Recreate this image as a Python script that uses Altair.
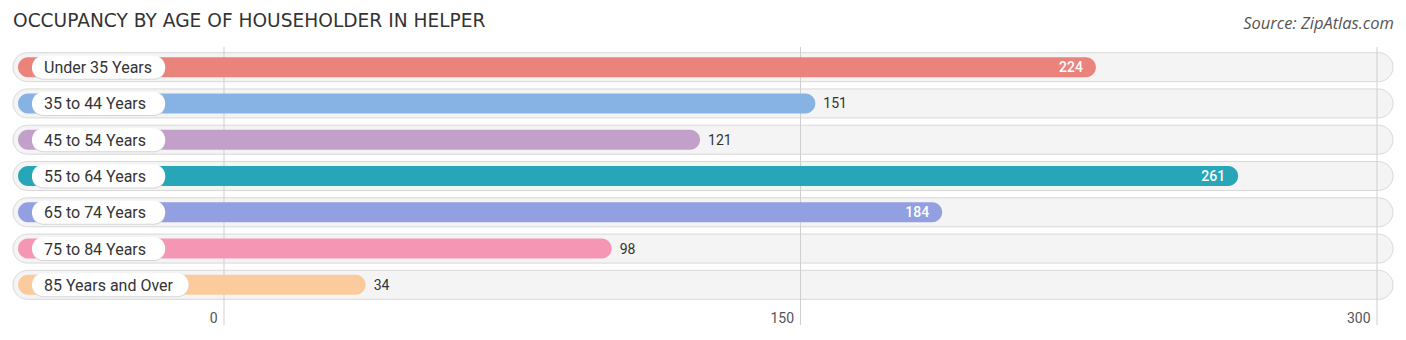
import altair as alt
import pandas as pd

labels = ["Under 35 Years", "35 to 44 Years", "45 to 54 Years", "55 to 64 Years",
          "65 to 74 Years", "75 to 84 Years", "85 Years and Over"]
values = [224, 151, 121, 261, 184, 98, 34]
colors = ["#E9837C", "#86B3E3", "#C3A0CA", "#27A6B8", "#929FE0", "#F596B4", "#FBCB9D"]
tick_values = [0, 150, 300]

df = pd.DataFrame({"label": labels, "value": values, "color": colors})
ticks_df = pd.DataFrame({"tick": tick_values})
txt_df = pd.DataFrame({"t": ["OCCUPANCY BY AGE OF HOUSEHOLDER IN HELPER"],
                       "s": ["Source: ZipAtlas.com"]})

PX = 576.5 / 150.0          # pixels per unit
X0 = 224.0                  # pixel of zero
def d(px):                  # pixel -> data units
    return (px - X0) / PX

xscale = alt.Scale(domain=[d(0), d(1406)], nice=False, zero=False)
xaxis = alt.Axis(values=tick_values, grid=False, domain=False, ticks=False, title=None,
                 labelAlign="right", labelOffset=-7, labelPadding=8,
                 labelFontSize=14, labelColor="#555", labelFont="Roboto")
yenc = alt.Y("label:N", sort=labels, axis=None,
             scale=alt.Scale(paddingInner=0, paddingOuter=0))

base = alt.Chart(df)

bg = base.mark_bar(height=29, cornerRadius=14.5, color="#f4f4f4",
                   stroke="#d9d9d9", strokeWidth=1).encode(
    x=alt.X("bs:Q", scale=xscale, axis=xaxis),
    x2="be:Q",
    y=yenc,
).transform_calculate(bs=str(d(13)), be=str(d(1393)))

grid = alt.Chart(ticks_df).mark_rule(color="#cfcfcf", strokeWidth=1).encode(
    x=alt.X("tick:Q", scale=xscale, axis=xaxis),
    y=alt.value(-2), y2=alt.value(276),
)

bars = base.mark_bar(height=20, cornerRadius=10, xOffset=11).encode(
    x=alt.X("value:Q", scale=xscale, axis=xaxis),
    x2=alt.datum(d(18)),
    y=yenc,
    color=alt.Color("color:N", scale=None),
)

pe_expr = f"{d(32)} + (length(datum.label)*7.8 + 24)/{PX}"

pill_shadow = base.mark_bar(height=23, cornerRadius=11.5, color="#d6d6d6", yOffset=1).encode(
    x=alt.X("ps:Q", scale=xscale, axis=xaxis), x2="pe:Q", y=yenc,
).transform_calculate(ps=str(d(32)), pe=pe_expr)

pill = base.mark_bar(height=23, cornerRadius=11.5, color="#ffffff").encode(
    x=alt.X("ps:Q", scale=xscale, axis=xaxis), x2="pe:Q", y=yenc,
).transform_calculate(ps=str(d(32)), pe=pe_expr)

label_text = base.mark_text(align="left", baseline="middle", fontSize=16,
                            font="Roboto", color="#333", dy=1).encode(
    x=alt.X("lx:Q", scale=xscale, axis=xaxis), y=yenc, text="label:N",
).transform_calculate(lx=str(d(44)))

val_in = base.mark_text(align="right", baseline="middle", fontSize=14, font="Roboto",
                        fontWeight=500, color="#ffffff", dx=-2, dy=1).encode(
    x=alt.X("value:Q", scale=xscale, axis=xaxis), y=yenc, text="value:Q",
).transform_filter("datum.value > 170")

val_out = base.mark_text(align="left", baseline="middle", fontSize=14, font="Roboto",
                         color="#333", dx=19, dy=1).encode(
    x=alt.X("value:Q", scale=xscale, axis=xaxis), y=yenc, text="value:Q",
).transform_filter("datum.value <= 170")

title = alt.Chart(txt_df).mark_text(align="left", baseline="middle", fontSize=18.6,
                                    font="DejaVu Sans", color="#333").encode(
    x=alt.value(13), y=alt.value(-28), text="t:N")

source = alt.Chart(txt_df).mark_text(align="right", baseline="middle", fontSize=16.5,
                                     font="Open Sans", fontStyle="italic", color="#555").encode(
    x=alt.value(1394), y=alt.value(-25), text="s:N")

chart = alt.layer(bg, grid, bars, pill_shadow, pill, label_text, val_in, val_out,
                  title, source).properties(
    width=1406, height=254,
    background="#ffffff",
    autosize=alt.AutoSizeParams(type="none"),
    padding={"top": 49, "bottom": 37, "left": 0, "right": 0},
).configure_view(strokeWidth=0, stroke="transparent")

chart.save("out.html", embed_options={"renderer": "svg", "actions": False})
